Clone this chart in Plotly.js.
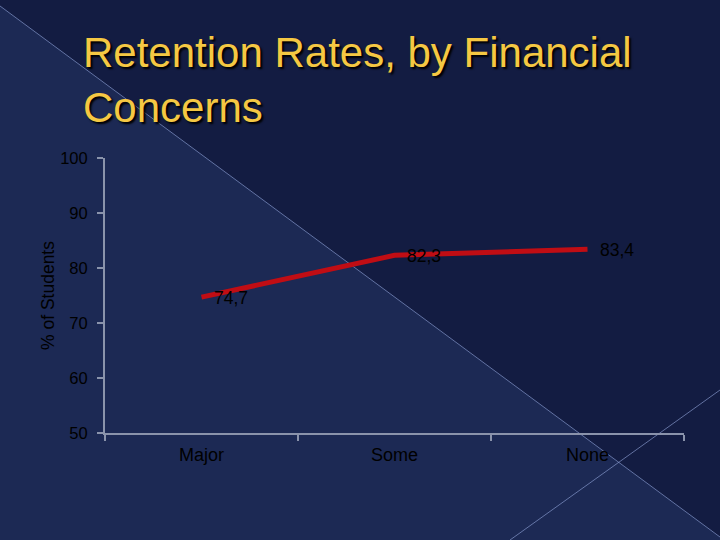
<!DOCTYPE html>
<html>
<head>
<meta charset="utf-8">
<script src="https://cdn.plot.ly/plotly-3.0.1.min.js"></script>
<style>
  html, body { margin: 0; padding: 0; background: #131c42; }
  #chart { width: 720px; height: 540px; }
</style>
</head>
<body>
<div id="chart"></div>
<script>
// Data
const categories = ['Major', 'Some', 'None'];
const retention = [74.7, 82.3, 83.4];
const yTicks = [50, 60, 70, 80, 90, 100];
const titleLines = ['Retention Rates, by Financial', 'Concerns'];
const yTitle = '% of Students';

// Layout geometry (pixels)
const W = 720, H = 540;
const M = { l: 105, r: 36, t: 158, b: 107 };
const pw = W - M.l - M.r, ph = H - M.t - M.b;
const px = x => (x - M.l) / pw;
const py = y => (H - M.b - y) / ph;

const labelText = retention.map(v => v.toFixed(1).replace('.', ','));
const FONT = 'Liberation Sans, Arial, sans-serif';

const trace = {
  x: categories,
  y: retention,
  type: 'scatter',
  mode: 'lines',
  line: { color: '#c00d14', width: 5 },
  hoverinfo: 'skip',
  showlegend: false
};

const annotations = categories.map((c, i) => ({
  x: c, y: retention[i], xref: 'x', yref: 'y',
  text: labelText[i], showarrow: false,
  xanchor: 'left', yanchor: 'middle', xshift: 10, yshift: -1,
  font: { family: FONT, size: 17.5, color: '#000000' }
}));

const lightTri = `M ${px(0)} ${py(6)} L ${px(720)} ${py(537)} L ${px(720)} ${py(540)} L ${px(0)} ${py(540)} Z`;

const shapes = [
  { type: 'path', xref: 'paper', yref: 'paper', path: lightTri, fillcolor: '#1c2954', line: { width: 0 }, layer: 'below' },
  { type: 'line', xref: 'paper', yref: 'paper', x0: px(0), y0: py(6), x1: px(720), y1: py(537),
    line: { color: 'rgba(140,158,210,0.65)', width: 1 }, layer: 'below' },
  { type: 'line', xref: 'paper', yref: 'paper', x0: px(510), y0: py(540), x1: px(720), y1: py(390),
    line: { color: 'rgba(140,158,210,0.65)', width: 1 }, layer: 'below' }
];

const axisColor = '#8a93ab';

const layout = {
  width: W, height: H,
  margin: M,
  paper_bgcolor: '#131c42',
  plot_bgcolor: 'rgba(0,0,0,0)',
  title: {
    text: titleLines.join('<br>'),
    xref: 'container', yref: 'container',
    x: 83 / W, xanchor: 'left',
    y: 1 - 67 / H, yanchor: 'top',
    font: { family: FONT, size: 42, color: '#f5c843', shadow: '2px 2px 2px #000000' }
  },
  xaxis: {
    type: 'category',
    range: [-0.5, 2.5],
    tickson: 'boundaries',
    ticks: 'outside', ticklen: 6, tickwidth: 2, tickcolor: axisColor,
    showline: true, linecolor: axisColor, linewidth: 2,
    showgrid: false, zeroline: false,
    ticklabelstandoff: 4,
    tickfont: { family: FONT, size: 18, color: '#000000' },
    fixedrange: true
  },
  yaxis: {
    range: [50, 100],
    tickvals: yTicks,
    ticks: 'outside', ticklen: 6, tickwidth: 2, tickcolor: axisColor,
    showline: true, linecolor: axisColor, linewidth: 2,
    showgrid: false, zeroline: false,
    ticklabelstandoff: 6,
    tickfont: { family: FONT, size: 16.5, color: '#000000' },
    title: { text: yTitle, standoff: 1, font: { family: FONT, size: 17.5, color: '#000000' } },
    fixedrange: true
  },
  shapes: shapes,
  annotations: annotations
};

Plotly.newPlot('chart', [trace], layout, { displayModeBar: false, staticPlot: true });
</script>
</body>
</html>
